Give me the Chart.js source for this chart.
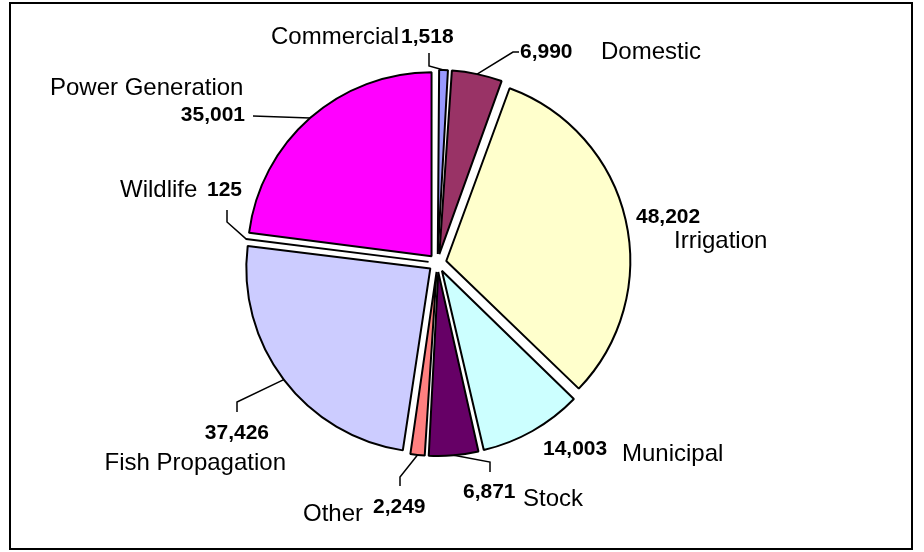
<!DOCTYPE html>
<html>
<head>
<meta charset="utf-8">
<script src="https://cdn.jsdelivr.net/npm/chart.js@4/dist/chart.umd.min.js"></script>
<style>
  html, body { margin: 0; padding: 0; background: #fff; }
  canvas { display: block; }
</style>
</head>
<body>
<canvas id="chart" width="924" height="552"></canvas>
<script>
// Water use by purpose
const categories = ['Commercial', 'Domestic', 'Irrigation', 'Municipal', 'Stock', 'Other', 'Fish Propagation', 'Wildlife', 'Power Generation'];
const values = [1518, 6990, 48202, 14003, 6871, 2249, 37426, 125, 35001];
const sliceColors = ['#9999FF', '#993366', '#FFFFCC', '#CCFFFF', '#660066', '#FF8080', '#CCCCFF', '#0066CC', '#FF00FF'];

// Label placement: text anchors (name / value) and leader-line elbows
const labelLayout = [
  { name: { x: 271, y: 37, align: 'left' },  value: { after: true, y: 37 },           leader: [[429, 66], [429, 53]] },
  { name: { x: 601, y: 52, align: 'left' },  value: { x: 520, y: 52, align: 'left' }, leader: [[513, 52], [519, 52]] },
  { name: { x: 674, y: 241, align: 'left' }, value: { x: 636, y: 217, align: 'left' }, leader: null },
  { name: { x: 622, y: 454, align: 'left' }, value: { x: 543, y: 449, align: 'left' }, leader: null },
  { name: { x: 523, y: 499, align: 'left' }, value: { x: 463, y: 492, align: 'left' }, leader: [[490, 462], [490, 472]] },
  { name: { x: 303, y: 514, align: 'left' }, value: { x: 373, y: 507, align: 'left' }, leader: [[400, 477], [400, 486]] },
  { name: { x: 286, y: 463, align: 'right' }, value: { x: 269, y: 433, align: 'right' }, leader: [[237, 402], [237, 412]] },
  { name: { x: 120, y: 190, align: 'left' }, value: { x: 207, y: 190, align: 'left' }, leader: [[227, 222], [227, 210]] },
  { name: { x: 50, y: 88, align: 'left' },   value: { x: 245, y: 115, align: 'right' }, leader: [[253, 116]] }
];

const EXPLODE = 36;        // arc offset option (Chart.js shifts slices by offset / 4)
const PIE_RADIUS = 184;
const FONT_FAMILY = '"Liberation Sans", Arial, Helvetica, sans-serif';
const NAME_FONT = '24px ' + FONT_FAMILY;
const VALUE_FONT = 'bold 21px ' + FONT_FAMILY;

const fmt = v => v.toLocaleString('en-US');

const pieDecor = {
  id: 'pieDecor',
  beforeDraw(chart) {
    const ctx = chart.ctx;
    ctx.save();
    ctx.fillStyle = '#ffffff';
    ctx.fillRect(0, 0, chart.width, chart.height);
    ctx.strokeStyle = '#000000';
    ctx.lineWidth = 2;
    ctx.strokeRect(10, 3, 902, 546);
    ctx.restore();
  },
  beforeDatasetsDraw(chart) {
    // keep every exploded slice at the same visible radius
    const meta = chart.getDatasetMeta(0);
    const R = meta.controller.outerRadius;
    meta.data.forEach(arc => {
      const shift = (arc.options.offset || 0) / 4;
      const fix = 1 - Math.sin(Math.min(Math.PI, arc.circumference));
      arc.outerRadius = R - shift * fix;
    });
  },
  afterDatasetsDraw(chart) {
    const ctx = chart.ctx;
    const meta = chart.getDatasetMeta(0);
    const R = meta.controller.outerRadius;
    ctx.save();
    meta.data.forEach((arc, i) => {
      const L = labelLayout[i];
      const mid = (arc.startAngle + arc.endAngle) / 2;
      const shift = (arc.options.offset || 0) / 4;
      const ex = arc.x + Math.cos(mid) * (shift + R);
      const ey = arc.y + Math.sin(mid) * (shift + R);
      if (L.leader) {
        ctx.beginPath();
        ctx.moveTo(ex, ey);
        L.leader.forEach(p => ctx.lineTo(p[0], p[1]));
        ctx.strokeStyle = '#000000';
        ctx.lineWidth = 1.5;
        ctx.stroke();
      }
      ctx.fillStyle = '#000000';
      ctx.textBaseline = 'middle';
      ctx.font = NAME_FONT;
      ctx.textAlign = L.name.align;
      ctx.fillText(categories[i], L.name.x, L.name.y);
      let vx = L.value.x, va = L.value.align;
      if (L.value.after) {
        vx = L.name.x + ctx.measureText(categories[i]).width + 2;
        va = 'left';
      }
      ctx.font = VALUE_FONT;
      ctx.textAlign = va;
      ctx.fillText(fmt(values[i]), vx, L.value.y);
    });
    ctx.restore();
  }
};

new Chart(document.getElementById('chart'), {
  type: 'pie',
  data: {
    labels: categories,
    datasets: [{
      data: values,
      backgroundColor: sliceColors,
      borderColor: '#000000',
      borderWidth: 2,
      offset: EXPLODE
    }]
  },
  options: {
    responsive: false,
    animation: false,
    radius: PIE_RADIUS,
    layout: { padding: { left: 0, right: 49, top: 0, bottom: 26 } },
    plugins: {
      legend: { display: false },
      tooltip: { enabled: false }
    },
    events: []
  },
  plugins: [pieDecor]
});
</script>
</body>
</html>
